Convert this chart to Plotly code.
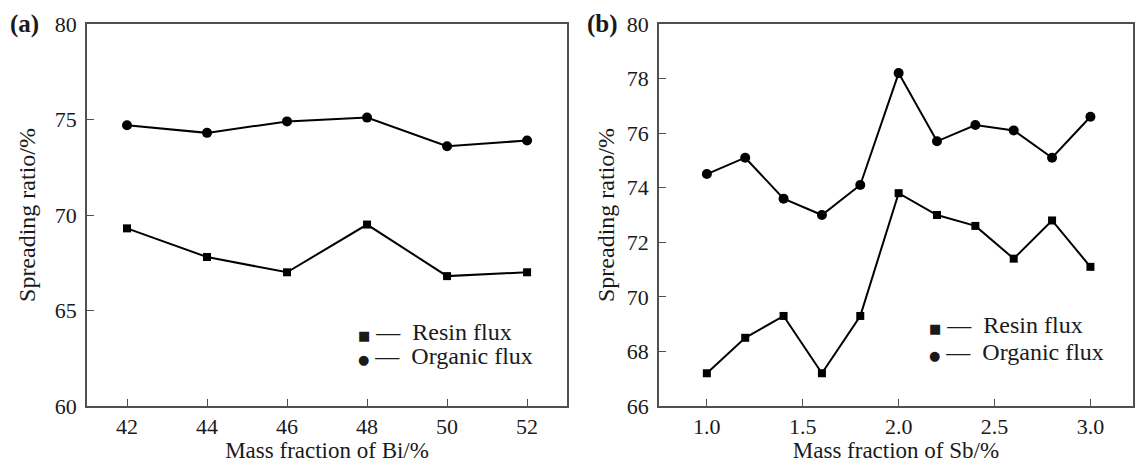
import plotly.graph_objects as go

# Panel (a): Bi content
bi_x = [42, 44, 46, 48, 50, 52]
bi_resin = [69.3, 67.8, 67.0, 69.5, 66.8, 67.0]
bi_organic = [74.7, 74.3, 74.9, 75.1, 73.6, 73.9]

# Panel (b): Sb content
sb_x = [1.0, 1.2, 1.4, 1.6, 1.8, 2.0, 2.2, 2.4, 2.6, 2.8, 3.0]
sb_resin = [67.2, 68.5, 69.3, 67.2, 69.3, 73.8, 73.0, 72.6, 71.4, 72.8, 71.1]
sb_organic = [74.5, 75.1, 73.6, 73.0, 74.1, 78.2, 75.7, 76.3, 76.1, 75.1, 76.6]

bi_yticks = [60, 65, 70, 75, 80]
sb_yticks = [66, 68, 70, 72, 74, 76, 78, 80]
sb_xticks = [1.0, 1.5, 2.0, 2.5, 3.0]
sb_xticklabels = ["1.0", "1.5", "2.0", "2.5", "3.0"]

FONT = "Liberation Serif"
LINE = dict(color="black", width=2)

fig = go.Figure()
fig.add_trace(go.Scatter(x=bi_x, y=bi_resin, mode="lines+markers", line=LINE,
                         marker=dict(symbol="square", size=8, color="black"),
                         xaxis="x", yaxis="y", showlegend=False))
fig.add_trace(go.Scatter(x=bi_x, y=bi_organic, mode="lines+markers", line=LINE,
                         marker=dict(symbol="circle", size=10, color="black"),
                         xaxis="x", yaxis="y", showlegend=False))
fig.add_trace(go.Scatter(x=sb_x, y=sb_resin, mode="lines+markers", line=LINE,
                         marker=dict(symbol="square", size=8, color="black"),
                         xaxis="x2", yaxis="y2", showlegend=False))
fig.add_trace(go.Scatter(x=sb_x, y=sb_organic, mode="lines+markers", line=LINE,
                         marker=dict(symbol="circle", size=10, color="black"),
                         xaxis="x2", yaxis="y2", showlegend=False))

W, H = 1135, 463
ml, mr, mt, mb = 87, 0, 24, 57
pw = W - ml - mr
d1 = [0, (568 - ml) / pw]
d2 = [(660 - ml) / pw, 1]

axis_common = dict(showline=True, linecolor="#505050", linewidth=1.5, mirror=True,
                   ticks="inside", ticklen=7, tickwidth=1.3, tickcolor="#505050",
                   showgrid=False, zeroline=False,
                   tickfont=dict(family=FONT, size=22, color="#1a1a1a"))

fig.update_layout(
    width=W, height=H,
    margin=dict(l=ml, r=mr, t=mt, b=mb),
    paper_bgcolor="white", plot_bgcolor="white",
    font=dict(family=FONT, color="#1a1a1a"),
    xaxis=dict(domain=d1, range=[41, 53], tickvals=bi_x, anchor="y",
               title=dict(text="Mass fraction of Bi/%", font=dict(family=FONT, size=23), standoff=5),
               **axis_common),
    yaxis=dict(domain=[0, 1], range=[60, 80], tickvals=bi_yticks, anchor="x",
               ticklabelstandoff=4,
               title=dict(text="Spreading ratio/%", font=dict(family=FONT, size=24), standoff=12),
               **axis_common),
    xaxis2=dict(domain=d2, range=[0.75, 3.222], tickvals=sb_xticks, ticktext=sb_xticklabels,
                anchor="y2",
                title=dict(text="Mass fraction of Sb/%", font=dict(family=FONT, size=23), standoff=5),
                **axis_common),
    yaxis2=dict(domain=[0, 1], range=[66, 80], tickvals=sb_yticks, anchor="x2",
                ticklabelstandoff=4,
                title=dict(text="Spreading ratio/%", font=dict(family=FONT, size=24), standoff=5),
                **axis_common),
)

def legend_line(sym, label, xref, yref, x, y):
    fig.add_annotation(
        text=f"<span style='font-size:13px;font-family:DejaVu Sans'>{sym}</span>\u00a0\u2014\u00a0\u00a0{label}",
        xref=xref, yref=yref, x=x, y=y, xanchor="left", yanchor="middle",
        showarrow=False, font=dict(family=FONT, size=24, color="#1a1a1a"))

legend_line("\u25A0", "Resin flux", "x domain", "y domain", 0.56, 0.194)
legend_line("\u25CF", "Organic flux", "x domain", "y domain", 0.56, 0.131)
legend_line("\u25A0", "Resin flux", "x2 domain", "y2 domain", 0.566, 0.212)
legend_line("\u25CF", "Organic flux", "x2 domain", "y2 domain", 0.566, 0.141)

fig.add_annotation(text="<b>(a)</b>", xref="paper", yref="paper", x=(8 - ml) / pw, y=1,
                   xanchor="left", yanchor="middle", showarrow=False,
                   font=dict(family=FONT, size=25, color="#1a1a1a"))
fig.add_annotation(text="<b>(b)</b>", xref="paper", yref="paper", x=(586 - ml) / pw, y=1,
                   xanchor="left", yanchor="middle", showarrow=False,
                   font=dict(family=FONT, size=25, color="#1a1a1a"))

fig.write_html("out.html")
